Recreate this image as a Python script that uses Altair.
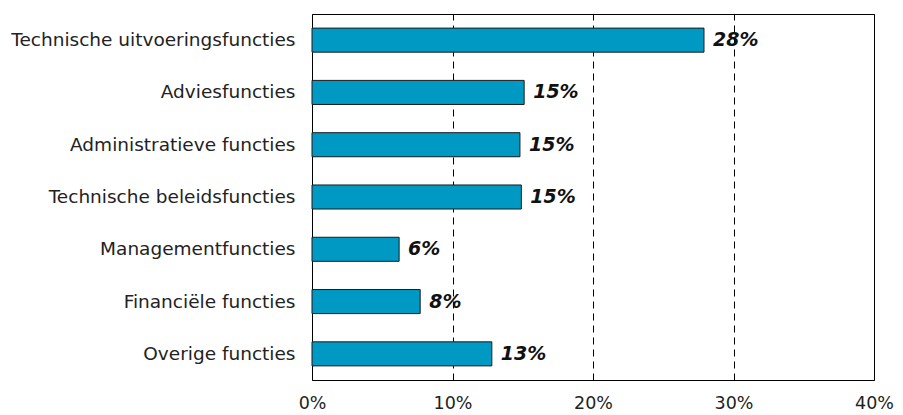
import altair as alt
import pandas as pd

categories = [
    "Technische uitvoeringsfuncties",
    "Adviesfuncties",
    "Administratieve functies",
    "Technische beleidsfuncties",
    "Managementfuncties",
    "Financiële functies",
    "Overige functies",
]
values = [27.9, 15.1, 14.8, 14.9, 6.2, 7.7, 12.8]
labels = ["28%", "15%", "15%", "15%", "6%", "8%", "13%"]
x_ticks = [0, 10, 20, 30, 40]

df = pd.DataFrame({"cat": categories, "val": values, "lab": labels})

FONT = "DejaVu Sans"

y_enc = alt.Y(
    "cat:N",
    sort=categories,
    title=None,
    scale=alt.Scale(paddingInner=0.54, paddingOuter=0.27),
    axis=alt.Axis(
        labelFont=FONT, labelFontSize=18.5, labelColor="#222222",
        ticks=False, domain=False, labelPadding=17, labelLimit=400,
    ),
)
x_enc = alt.X(
    "val:Q",
    title=None,
    scale=alt.Scale(domain=[0, 40], nice=False),
    axis=alt.Axis(
        values=x_ticks, labelExpr="datum.value + '%'",
        labelFont=FONT, labelFontSize=17.5, labelColor="#222222",
        ticks=False, domain=False, labelPadding=14,
        grid=True, gridColor="#000000", gridDash=[7, 5], gridWidth=1,
        labelFlush=False,
    ),
)

bars = alt.Chart(df).mark_bar(
    color="#0099C4", stroke="#1a1a1a", strokeWidth=1
).encode(x=x_enc, y=y_enc)

text = alt.Chart(df).mark_text(
    align="left", baseline="middle", dx=9,
    font=FONT, fontSize=19, fontWeight="bold", fontStyle="italic", color="#111111",
).encode(
    x=alt.X("val:Q", scale=alt.Scale(domain=[0, 40], nice=False)),
    y=alt.Y("cat:N", sort=categories),
    text="lab:N",
)

chart = (
    alt.layer(bars, text)
    .properties(
        width=562, height=366,
        autosize=alt.AutoSizeParams(type="none"),
        padding={"left": 304, "top": 6, "right": 21, "bottom": 35},
        background="white",
    )
    .configure_view(stroke="#000000", strokeWidth=1)
)

chart.save("out.html", embed_options={"renderer": "svg", "actions": False})
